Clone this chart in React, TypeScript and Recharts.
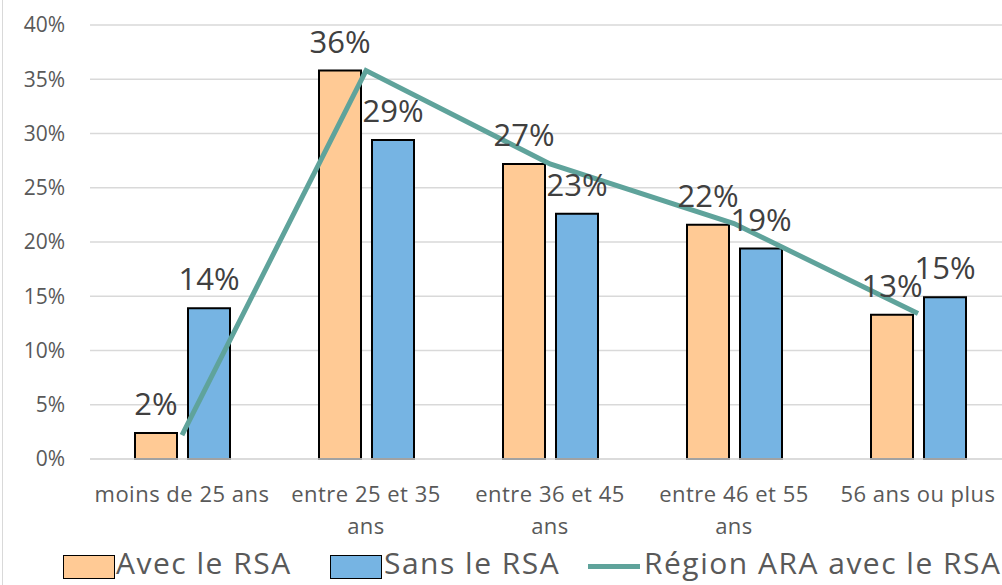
import React from 'react';
import { ComposedChart, Bar, Line, XAxis, YAxis, CartesianGrid, LabelList, Legend } from 'recharts';

const categories = ['moins de 25 ans', 'entre 25 et 35 ans', 'entre 36 et 45 ans', 'entre 46 et 55 ans', '56 ans ou plus'];
const avecRSA = [2.4, 35.8, 27.2, 21.6, 13.3];
const sansRSA = [13.9, 29.4, 22.6, 19.4, 14.9];
const regionARA = [2.2, 35.8, 27.2, 21.7, 13.4];
const yTicks = [0, 5, 10, 15, 20, 25, 30, 35, 40];

const data = categories.map((c, i) => ({ name: c, avec: avecRSA[i], sans: sansRSA[i], region: regionARA[i] }));

const FONT = '"Open Sans", sans-serif';
const ORANGE = '#ffca95';
const BLUE = '#76b4e3';
const TEAL = '#5fa39b';

function wrap(text: string, max: number): string[] {
  const words = text.split(' ');
  const lines: string[] = [];
  let cur = '';
  for (const w of words) {
    const next = cur ? cur + ' ' + w : w;
    if (next.length > max && cur) {
      lines.push(cur);
      cur = w;
    } else {
      cur = next;
    }
  }
  if (cur) lines.push(cur);
  return lines;
}

const XTick = (props: any) => {
  const { x, y, payload } = props;
  const lines = wrap(payload.value, 15);
  return (
    <text x={x} y={y} textAnchor="middle" fill="#595959" fontFamily={FONT} fontSize={22} letterSpacing={0.5}>
      {lines.map((l, i) => (
        <tspan key={i} x={x} y={y + 43 + i * 32}>{l}</tspan>
      ))}
    </text>
  );
};

const LegendContent = () => {
  const textStyle: React.CSSProperties = { position: 'absolute', top: 6, fontFamily: FONT, fontSize: 30, letterSpacing: 1.5, color: '#595959', lineHeight: '36px', whiteSpace: 'nowrap' };
  return (
    <div style={{ position: 'relative', width: 1002, height: 46 }}>
      <div style={{ position: 'absolute', left: 63, top: 16, width: 50, height: 22, background: ORANGE, border: '1.5px solid #000' }} />
      <div style={{ ...textStyle, left: 116 }}>Avec le RSA</div>
      <div style={{ position: 'absolute', left: 330, top: 16, width: 50, height: 22, background: BLUE, border: '1.5px solid #000' }} />
      <div style={{ ...textStyle, left: 384 }}>Sans le RSA</div>
      <div style={{ position: 'absolute', left: 588, top: 25, width: 52, height: 5, background: TEAL }} />
      <div style={{ ...textStyle, left: 644 }}>Région ARA avec le RSA</div>
    </div>
  );
};

const fmt = (v: any) => `${Math.round(Number(v))}%`;

export default function App() {
  return (
    <div style={{ position: 'absolute', left: 0, top: 0, width: 1002, height: 585, overflow: 'hidden', background: '#fff' }}>
      <div style={{ position: 'absolute', left: 2, top: 0, width: 1, height: 585, background: '#d9d9d9' }} />
      <ComposedChart width={1012} height={585} data={data} margin={{ top: 25, right: 2, left: 0, bottom: 0 }} barSize={42} barGap={11}>
        <CartesianGrid vertical={false} stroke="#d9d9d9" strokeWidth={1.5} />
        <YAxis
          width={90}
          domain={[0, 40]}
          ticks={yTicks}
          tickFormatter={(v: number) => `${v}%`}
          axisLine={false}
          tickLine={false}
          tickSize={0}
          tickMargin={25}
          tick={{ fill: '#595959', fontFamily: FONT, fontSize: 21 }}
        />
        <XAxis dataKey="name" height={80} axisLine={{ stroke: '#d9d9d9', strokeWidth: 1.5 }} tickLine={false} tickSize={0} tickMargin={0} tick={<XTick />} interval={0} />
        <Legend verticalAlign="bottom" height={46} content={<LegendContent />} wrapperStyle={{ left: 0, width: 1002 }} />
        <Bar dataKey="avec" fill={ORANGE} stroke="#000" strokeWidth={2} isAnimationActive={false}>
          <LabelList dataKey="avec" position="top" offset={18} formatter={fmt} fill="#404040" fontFamily={FONT} fontSize={31} />
        </Bar>
        <Bar dataKey="sans" fill={BLUE} stroke="#000" strokeWidth={2} isAnimationActive={false}>
          <LabelList dataKey="sans" position="top" offset={18} formatter={fmt} fill="#404040" fontFamily={FONT} fontSize={31} />
        </Bar>
        <Line dataKey="region" stroke={TEAL} strokeWidth={5} dot={false} activeDot={false} isAnimationActive={false} />
      </ComposedChart>
    </div>
  );
}
